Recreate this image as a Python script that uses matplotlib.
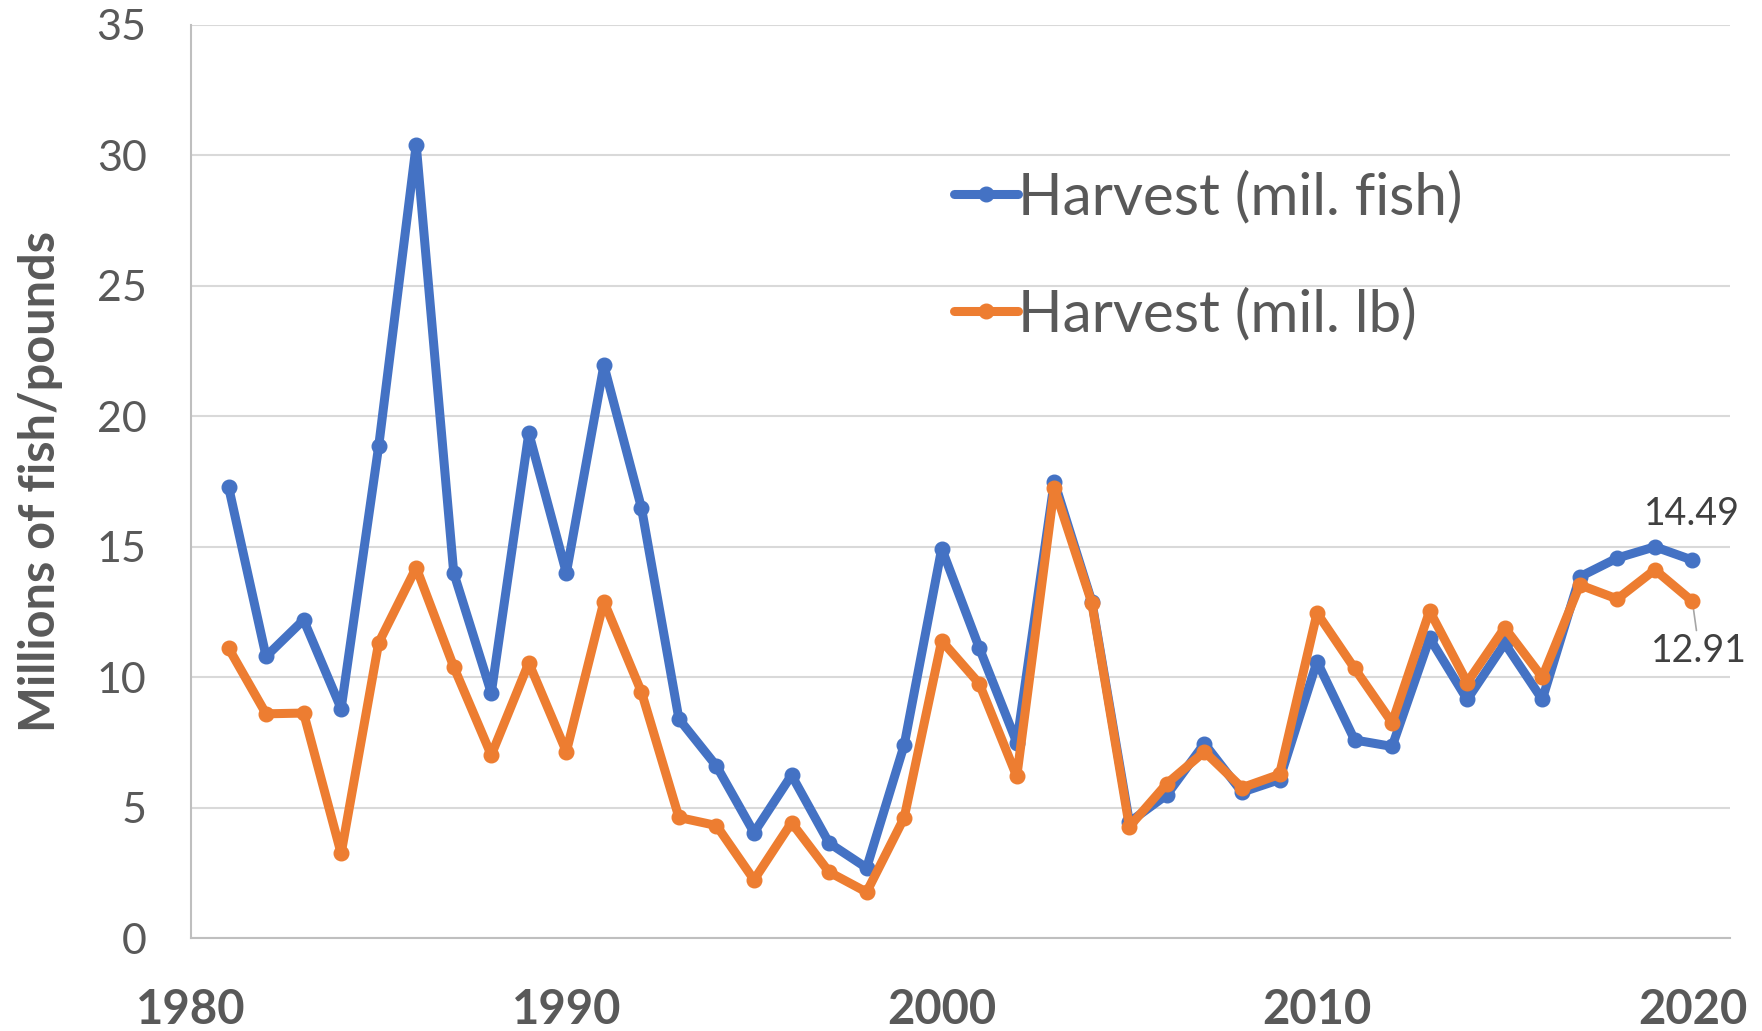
import numpy as np
import matplotlib
matplotlib.use("Agg")
import matplotlib.pyplot as plt

plt.rcParams['font.family'] = ['Lato', 'DejaVu Sans']

years = list(range(1981, 2021))
harvest_fish = [17.3, 10.8, 12.2, 8.8, 18.85, 30.4, 14.0, 9.4, 19.35, 14.0,
                21.95, 16.5, 8.4, 6.6, 4.05, 6.25, 3.65, 2.7, 7.4, 14.93,
                11.13, 7.5, 17.5, 12.9, 4.45, 5.5, 7.46, 5.6, 6.08, 10.6,
                7.6, 7.35, 11.5, 9.15, 11.3, 9.15, 13.85, 14.57, 15.0, 14.49]
harvest_lb = [11.12, 8.6, 8.63, 3.25, 11.32, 14.2, 10.4, 7.02, 10.55, 7.15,
              12.9, 9.44, 4.63, 4.32, 2.24, 4.43, 2.54, 1.77, 4.62, 11.4,
              9.76, 6.2, 17.25, 12.85, 4.28, 5.93, 7.15, 5.77, 6.28, 12.46,
              10.34, 8.26, 12.54, 9.8, 11.9, 10.0, 13.54, 13.0, 14.12, 12.91]
labels = ["Harvest (mil. fish)", "Harvest (mil. lb)"]
x_ticks = [1980, 1990, 2000, 2010, 2020]
y_ticks = [0, 5, 10, 15, 20, 25, 30, 35]

blue = "#4472C4"
orange = "#ED7D31"
txt = "#595959"

fig = plt.figure(figsize=(17.62, 10.31), dpi=100)
ax = fig.add_axes([0.1084, 0.0899, 0.8734, 0.8861])

ax.plot(years, harvest_fish, color=blue, lw=6.5, marker='o', ms=10.5,
        solid_joinstyle='round', solid_capstyle='round', label=labels[0], zorder=3)
ax.plot(years, harvest_lb, color=orange, lw=6.5, marker='o', ms=10.5,
        solid_joinstyle='round', solid_capstyle='round', label=labels[1], zorder=4)

ax.set_xlim(1980, 2021)
ax.set_ylim(0, 35)
ax.set_xticks(x_ticks)
ax.set_yticks(y_ticks)
ax.set_xticklabels([str(v) for v in x_ticks], fontsize=34, fontweight='bold', color=txt)
ax.set_yticklabels([str(v) for v in y_ticks], fontsize=31, color=txt)
ax.tick_params(axis='both', length=0)
ax.tick_params(axis='y', pad=32)
ax.tick_params(axis='x', pad=36)

ax.grid(axis='y', color='#D9D9D9', lw=1.5)
ax.set_axisbelow(True)
for s in ['top', 'right']:
    ax.spines[s].set_visible(False)
for s in ['left', 'bottom']:
    ax.spines[s].set_color('#BFBFBF')
    ax.spines[s].set_linewidth(1.5)

ax.set_ylabel("Millions of fish/pounds", fontsize=35, fontweight='bold', color=txt)
ax.yaxis.set_label_coords(-0.083, 0.5)

# end-point labels
ax.annotate(f"{harvest_fish[-1]:.2f}", (years[-1], harvest_fish[-1]),
            xytext=(0, 20), textcoords='offset points', ha='center', va='bottom',
            fontsize=27, color='#404040')
ax.annotate(f"{harvest_lb[-1]:.2f}", (years[-1], harvest_lb[-1]),
            xytext=(5, -23), textcoords='offset points', ha='center', va='top',
            fontsize=27, color='#404040',
            arrowprops=dict(arrowstyle='-', color='#A6A6A6', lw=1.2, shrinkA=0, shrinkB=3))

leg = ax.legend(loc='upper left', bbox_to_anchor=(0.496, 0.84), frameon=False,
                fontsize=42, handlelength=1.1, handletextpad=0.0, labelspacing=1.08,
                borderaxespad=0, borderpad=0)
for t in leg.get_texts():
    t.set_color(txt)

fig.savefig("out.png", dpi=100)
